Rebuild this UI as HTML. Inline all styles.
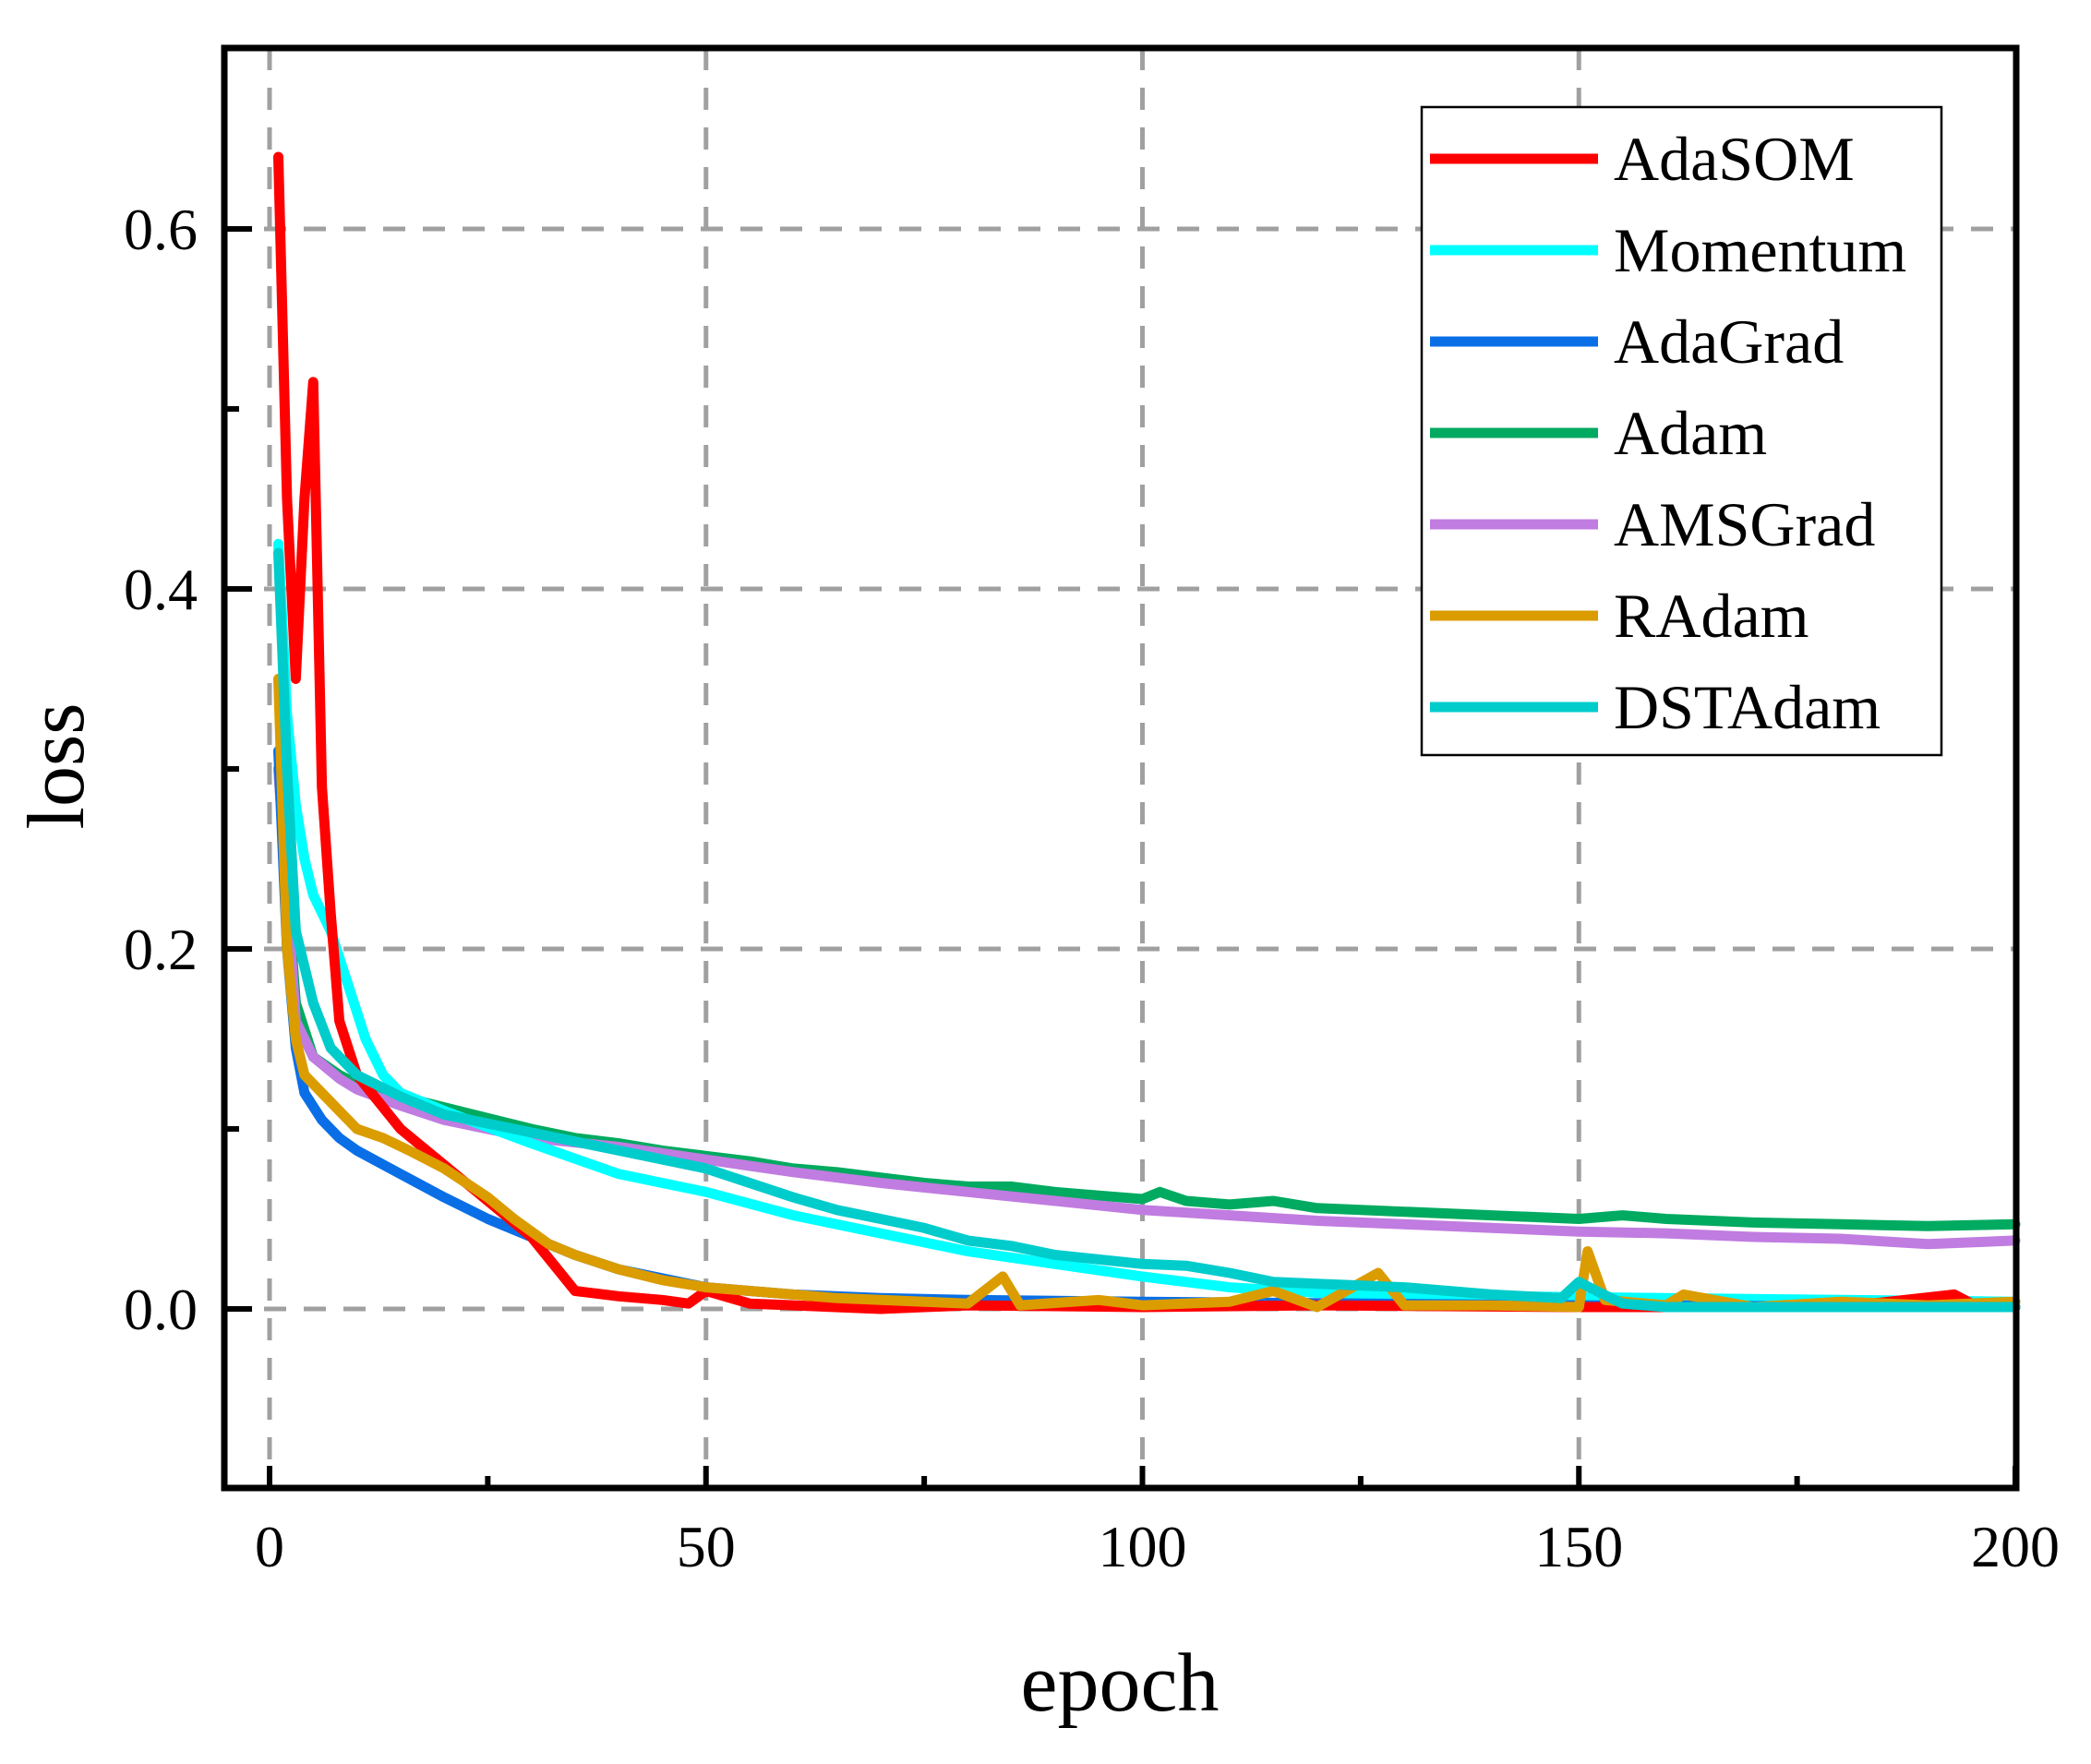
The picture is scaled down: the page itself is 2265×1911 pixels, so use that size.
<!DOCTYPE html>
<html><head><meta charset="utf-8"><style>
html,body{margin:0;padding:0;background:#fff}
svg text{font-family:"Liberation Serif",serif;fill:#000}
</style></head><body>
<svg id="chart" width="2265" height="1906" viewBox="0 0 2265 1906" xmlns="http://www.w3.org/2000/svg">
<g id="grid"></g>
<g id="series"></g>
<g id="axes"></g>
<g id="legend"></g>
</svg>
<script>
const xTicks = [0, 50, 100, 150, 200];
const xTickLabels = ["0", "50", "100", "150", "200"];
const yTicks = [0.0, 0.2, 0.4, 0.6];
const yTickLabels = ["0.0", "0.2", "0.4", "0.6"];
const seriesNames = ["AdaSOM", "Momentum", "AdaGrad", "Adam", "AMSGrad", "RAdam", "DSTAdam"];
const seriesColors = ["#ff0000", "#00ffff", "#0a6fe6", "#00aa60", "#c07ce0", "#db9c00", "#00cccc"];

const adasomX = [1,2,3,4,5,6,7,8,10,15,20,25,30,35,40,45,48,50,55,60,70,80,100,120,150,180,193,195,200];
const adasomY = [0.64,0.45,0.35,0.45,0.515,0.29,0.22,0.16,0.13,0.10,0.08,0.06,0.04,0.01,0.007,0.005,0.003,0.01,0.003,0.002,0.0,0.002,0.001,0.002,0.001,0.001,0.008,0.003,0.001];
const momentumX = [1,2,3,4,5,7,9,11,13,15,20,30,40,50,60,70,80,90,100,110,120,140,160,200];
const momentumY = [0.425,0.33,0.28,0.25,0.23,0.21,0.18,0.15,0.13,0.12,0.11,0.092,0.075,0.065,0.052,0.042,0.032,0.025,0.018,0.012,0.009,0.007,0.006,0.004];
const adagradX = [1,2,3,4,6,8,10,15,20,25,30,35,40,50,60,70,80,100,150,200];
const adagradY = [0.31,0.2,0.145,0.12,0.105,0.095,0.088,0.075,0.062,0.05,0.04,0.03,0.022,0.012,0.008,0.006,0.005,0.004,0.002,0.001];
const adamX = [1,3,5,8,10,15,20,25,30,35,40,45,50,55,60,65,70,75,80,85,90,95,100,102,105,110,115,120,130,140,150,155,160,170,180,190,200];
const adamY = [0.3,0.17,0.14,0.13,0.125,0.118,0.112,0.106,0.1,0.095,0.092,0.088,0.085,0.082,0.078,0.076,0.073,0.07,0.068,0.068,0.065,0.063,0.061,0.065,0.06,0.058,0.06,0.056,0.054,0.052,0.05,0.052,0.05,0.048,0.047,0.046,0.047];
const amsgradX = [1,3,5,8,10,15,20,30,40,50,60,70,80,90,100,110,120,130,140,150,160,170,180,190,200];
const amsgradY = [0.3,0.16,0.14,0.128,0.122,0.113,0.105,0.095,0.09,0.083,0.076,0.07,0.065,0.06,0.055,0.052,0.049,0.047,0.045,0.043,0.042,0.04,0.039,0.036,0.038];
const radamX = [1,2,3,4,6,8,10,13,16,20,25,28,32,35,40,45,50,55,60,65,70,75,80,84,86,95,100,110,115,120,127,130,140,150,151,153,160,162,170,180,190,200];
const radamY = [0.35,0.2,0.15,0.13,0.12,0.11,0.1,0.095,0.088,0.078,0.062,0.05,0.036,0.03,0.022,0.016,0.012,0.01,0.008,0.006,0.005,0.004,0.003,0.018,0.002,0.005,0.002,0.004,0.01,0.001,0.02,0.002,0.002,0.001,0.032,0.005,0.002,0.008,0.001,0.004,0.002,0.004];
const dstadamX = [1,2,3,5,7,10,15,20,30,40,50,55,60,65,70,75,80,85,90,100,105,110,115,120,130,140,148,150,152,155,160,200];
const dstadamY = [0.42,0.3,0.21,0.17,0.145,0.13,0.118,0.108,0.098,0.088,0.078,0.07,0.062,0.055,0.05,0.045,0.038,0.035,0.03,0.025,0.024,0.02,0.015,0.014,0.012,0.008,0.006,0.015,0.01,0.003,0.001,0.001];

const NS = "http://www.w3.org/2000/svg";
const L = 243, R = 2184, T = 52, B = 1612;
const X0 = 292, X1 = 2183;
function xs(v){ return X0 + (X1 - X0) * v / 200; }
function ys(v){ return 1418 - v * 1950; }
function mk(tag, attrs, parent){
  const e = document.createElementNS(NS, tag);
  for (const k in attrs) e.setAttribute(k, attrs[k]);
  parent.appendChild(e); return e;
}
const grid = document.getElementById('grid');
const axes = document.getElementById('axes');
const ser = document.getElementById('series');
const leg = document.getElementById('legend');

xTicks.forEach((t,i)=>{
  const g = mk('line',{x1:xs(t),x2:xs(t),y1:T,y2:B,stroke:'#a0a0a0','stroke-width':5,'stroke-dasharray':'24 19'},grid);
  
  
  const tk = mk('line',{x1:xs(t),x2:xs(t),y1:B,y2:B-24,stroke:'#000','stroke-width':6},axes);
  
  
  const lb = mk('text',{x:xs(t),y:1697,'font-size':64,'text-anchor':'middle'},axes);
  lb.textContent = xTickLabels[i];
  
  
});
[25,75,125,175].forEach(t=>{
  const tk = mk('line',{x1:xs(t),x2:xs(t),y1:B,y2:B-13,stroke:'#000','stroke-width':6},axes);
  
  
});
yTicks.forEach((t,i)=>{
  const g = mk('line',{x1:L,x2:R,y1:ys(t),y2:ys(t),stroke:'#a0a0a0','stroke-width':5,'stroke-dasharray':'24 19'},grid);
  
  
  const tk = mk('line',{x1:L,x2:L+30,y1:ys(t),y2:ys(t),stroke:'#000','stroke-width':6},axes);
  
  
  const lb = mk('text',{x:214,y:ys(t)+22,'font-size':64,'text-anchor':'end'},axes);
  lb.textContent = yTickLabels[i];
  
  
});
[0.1,0.3,0.5].forEach(t=>{
  const tk = mk('line',{x1:L,x2:L+16,y1:ys(t),y2:ys(t),stroke:'#000','stroke-width':6},axes);
  
  
});
const frame = mk('rect',{x:L,y:T,width:R-L,height:B-T,fill:'none',stroke:'#000','stroke-width':7},axes);


const xt = mk('text',{x:1213,y:1853,'font-size':90,'text-anchor':'middle'},axes);
xt.textContent = 'epoch';


const yt = mk('text',{x:0,y:0,'font-size':88,'text-anchor':'middle',transform:'translate(90,830) rotate(-90)'},axes);
yt.textContent = 'loss';



const dataX = [adasomX, momentumX, adagradX, adamX, amsgradX, radamX, dstadamX];
const dataY = [adasomY, momentumY, adagradY, adamY, amsgradY, radamY, dstadamY];
const order = [3,4,1,2,0,5,6];
order.forEach(i=>{
  const d = dataX[i].map((x,j)=>(j?'L':'M')+xs(x).toFixed(1)+','+ys(dataY[i][j]).toFixed(1)).join(' ');
  const p = mk('path',{d:d,fill:'none',stroke:seriesColors[i],'stroke-width':11,'stroke-linejoin':'round','stroke-linecap':'round'},ser);
  
  
});

const box = mk('rect',{x:1540,y:116,width:563,height:702,fill:'#fff',stroke:'#000','stroke-width':2.5},leg);


seriesNames.forEach((n,i)=>{
  const y = 172 + i*99;
  const ln = mk('line',{x1:1549,x2:1731,y1:y,y2:y,stroke:seriesColors[i],'stroke-width':11},leg);
  
  
  const tx = mk('text',{x:1748,y:y+23,'font-size':68},leg);
  tx.textContent = n;
  
  
});
</script>
</body></html>
